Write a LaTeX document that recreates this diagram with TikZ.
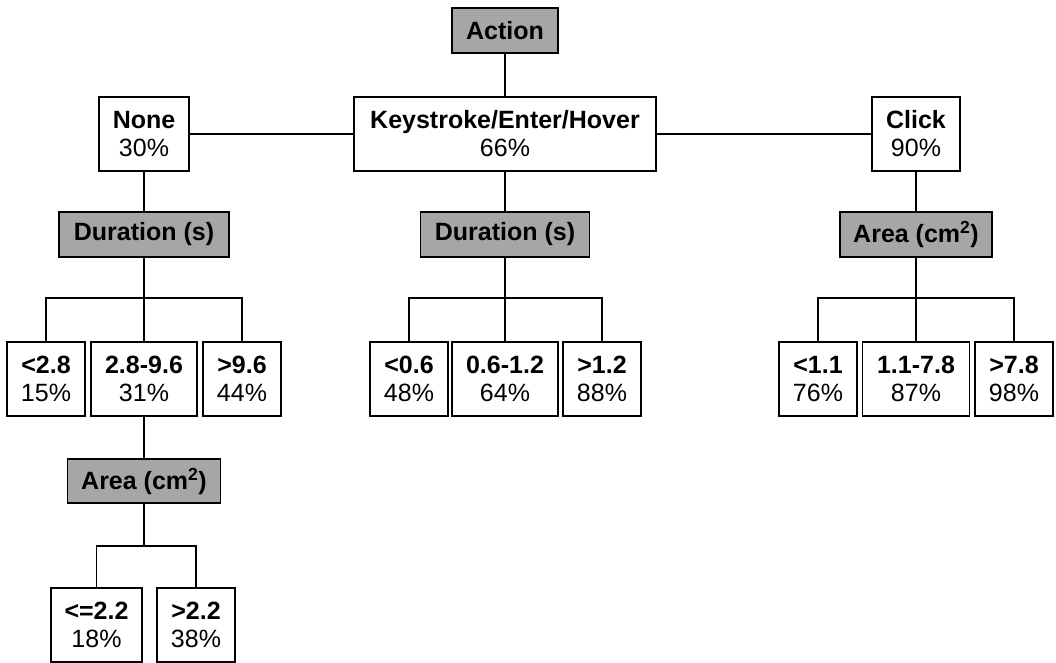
\documentclass[tikz,border=0pt]{standalone}
\usepackage{fontspec}
\setmainfont{Liberation Sans}
\usetikzlibrary{calc}
\definecolor{boxgray}{RGB}{166,166,166}
\tikzset{
	leaf/.style={draw, line width=1.8pt, fill=white, align=center, inner sep=0pt, minimum height=74pt, font=\fontsize{25}{28}\selectfont},
	split/.style={draw, line width=1.8pt, fill=boxgray, inner sep=0pt, minimum height=45pt, font=\fontsize{25}{28}\selectfont\bfseries},
	conn/.style={line width=1.8pt}
}

\begin{document}
\begin{tikzpicture}[x=1pt, y=-1pt]
			%%%%% START %%%%%
			\useasboundingbox (0, 0) rectangle (1056, 663);
			
			\node[split, minimum width=106pt] (action) at (505, 30.5) {Action};
			
			\node[leaf, minimum width=90pt] (none) at (144, 134) {\textbf{None}\\30\%};
			\node[leaf, minimum width=302pt] (keys) at (505, 134) {\textbf{Keystroke/Enter/Hover}\\66\%};
			\node[leaf, minimum width=88pt] (click) at (916, 134) {\textbf{Click}\\90\%};
			
			\node[split, minimum width=170pt] (durnone) at (144, 234.5) {Duration (s)};
			\node[split, minimum width=169pt] (durkeys) at (505, 234.5) {Duration (s)};
			\node[split, minimum width=152pt] (areaclick) at (916, 234.5) {Area (cm\textsuperscript{2})};
			
			\coordinate (jnone) at (144, 298);
			\coordinate (jkeys) at (505, 298);
			\coordinate (jclick) at (916, 298);
			
			\node[leaf, minimum width=78pt] (nlow) at (46, 379) {\textbf{<2.8}\\15\%};
			\node[leaf, minimum width=106pt] (nmid) at (144, 379) {\textbf{2.8-9.6}\\31\%};
			\node[leaf, minimum width=78pt] (nhigh) at (242, 379) {\textbf{>9.6}\\44\%};
			
			\node[leaf, minimum width=78pt] (klow) at (409, 379) {\textbf{<0.6}\\48\%};
			\node[leaf, minimum width=106pt] (kmid) at (505, 379) {\textbf{0.6-1.2}\\64\%};
			\node[leaf, minimum width=78pt] (khigh) at (602, 379) {\textbf{>1.2}\\88\%};
			
			\node[leaf, minimum width=78pt] (clow) at (818, 379) {\textbf{<1.1}\\76\%};
			\node[leaf, minimum width=107pt] (cmid) at (916, 379) {\textbf{1.1-7.8}\\87\%};
			\node[leaf, minimum width=78pt] (chigh) at (1014, 379) {\textbf{>7.8}\\98\%};
			
			\node[split, minimum width=153pt, minimum height=44pt] (areanone) at (144, 481) {Area (cm\textsuperscript{2})};
			\coordinate (jarea) at (144, 546);
			
			\node[leaf, minimum width=91pt] (alow) at (96.5, 625) {\textbf{<=2.2}\\18\%};
			\node[leaf, minimum width=78pt] (ahigh) at (196, 625) {\textbf{>2.2}\\38\%};
			
			% top level
			\draw[conn] (action) -- (keys);
			\draw[conn] (none) -- (keys);
			\draw[conn] (keys) -- (click);
			
			\draw[conn] (none) -- (durnone);
			\draw[conn] (keys) -- (durkeys);
			\draw[conn] (click) -- (areaclick);
			
			% brackets
			\draw[conn] (durnone) -- (nmid);
			\draw[conn] (nlow.north) |- (jnone) -| (nhigh.north);
			
			\draw[conn] (durkeys) -- (kmid);
			\draw[conn] (klow.north) |- (jkeys) -| (khigh.north);
			
			\draw[conn] (areaclick) -- (cmid);
			\draw[conn] (clow.north) |- (jclick) -| (chigh.north);
			
			\draw[conn] (nmid) -- (areanone);
			\draw[conn] (areanone) -- (jarea);
			\draw[conn] (alow.north) |- (jarea) -| (ahigh.north);
			
			%%%%% END %%%%%
\end{tikzpicture}
\end{document}
